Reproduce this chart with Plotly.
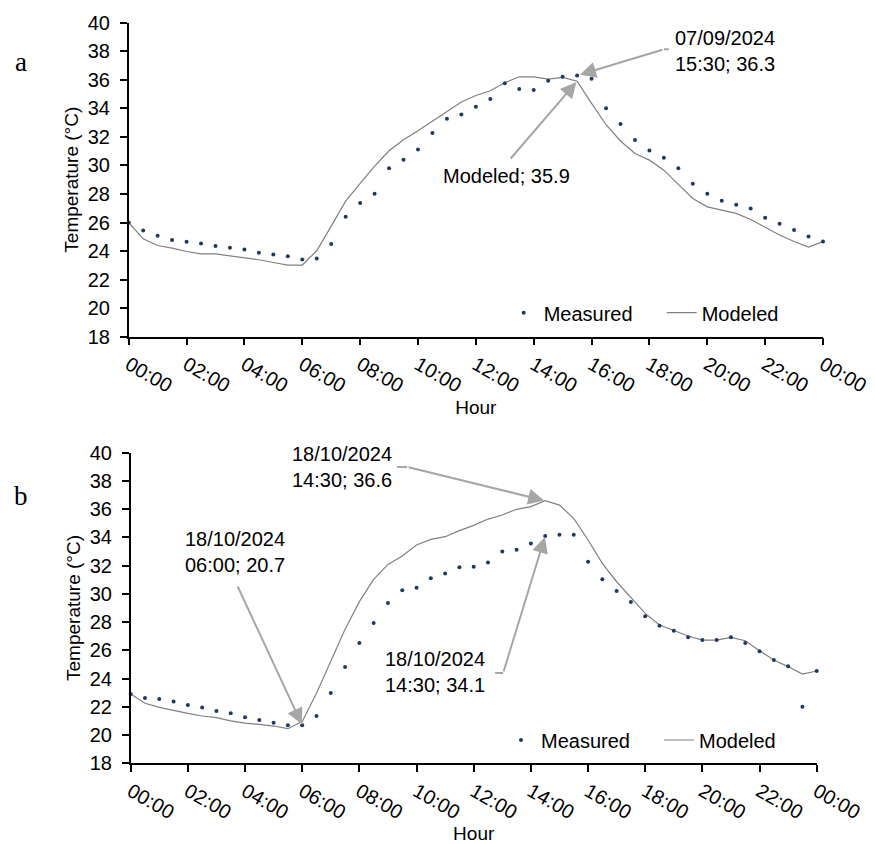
import plotly.graph_objects as go

# ---------------- data ----------------
hours = [0, 0.5, 1, 1.5, 2, 2.5, 3, 3.5, 4, 4.5, 5, 5.5, 6, 6.5, 7, 7.5, 8, 8.5,
         9, 9.5, 10, 10.5, 11, 11.5, 12, 12.5, 13, 13.5, 14, 14.5, 15, 15.5, 16,
         16.5, 17, 17.5, 18, 18.5, 19, 19.5, 20, 20.5, 21, 21.5, 22, 22.5, 23,
         23.5, 24]

tick_vals = [0, 2, 4, 6, 8, 10, 12, 14, 16, 18, 20, 22, 24]
tick_text = ["00:00", "02:00", "04:00", "06:00", "08:00", "10:00", "12:00",
             "14:00", "16:00", "18:00", "20:00", "22:00", "00:00"]

# Panel a (07/09/2024)
measured_a = [26.0, 25.44, 25.07, 24.77, 24.65, 24.53, 24.35, 24.23, 24.11, 23.88,
              23.76, 23.64, 23.41, 23.48, 24.49, 26.40, 27.36, 28.01, 29.81, 30.40,
              31.12, 32.27, 33.27, 33.57, 34.11, 34.65, 35.75, 35.35, 35.28, 35.93,
              36.21, 36.3, 36.07, 34.0, 32.9, 31.78, 31.05, 30.54, 29.81, 28.71,
              28.01, 27.52, 27.24, 26.99, 26.33, 25.91, 25.47, 25.02, 24.67]
modeled_a = [26.0, 24.86, 24.39, 24.21, 23.97, 23.8, 23.8, 23.67, 23.55, 23.39,
             23.2, 23.02, 23.02, 24.02, 25.75, 27.5, 28.74, 29.95, 31.03, 31.8,
             32.43, 33.11, 33.74, 34.44, 34.9, 35.23, 35.79, 36.21, 36.21, 36.05,
             36.17, 35.9, 34.35, 32.85, 31.71, 30.84, 30.37, 29.67, 28.67, 27.69,
             27.1, 26.87, 26.64, 26.21, 25.65, 25.12, 24.67, 24.28, 24.67]

# Panel b (18/10/2024)
measured_b = [22.91, 22.63, 22.55, 22.37, 22.13, 21.96, 21.70, 21.54, 21.26, 21.07,
              20.88, 20.69, 20.7, 21.35, 22.98, 24.82, 26.52, 27.94, 29.35, 30.25,
              30.44, 31.1, 31.45, 31.88, 31.93, 32.23, 33.01, 33.13, 33.56, 34.1,
              34.19, 34.19, 32.28, 31.03, 30.2, 29.42, 28.41, 27.75, 27.39, 26.92,
              26.73, 26.73, 26.92, 26.52, 25.93, 25.32, 24.87, 22.01, 24.54]
modeled_b = [22.91, 22.25, 21.96, 21.73, 21.54, 21.35, 21.23, 21.0, 20.85, 20.76,
             20.64, 20.45, 20.95, 22.96, 25.27, 27.49, 29.45, 31.03, 32.09, 32.68,
             33.46, 33.86, 34.05, 34.48, 34.85, 35.3, 35.59, 35.99, 36.18, 36.6,
             36.29, 35.35, 33.82, 32.16, 30.86, 29.73, 28.62, 27.8, 27.39, 27.02,
             26.73, 26.73, 26.92, 26.68, 25.98, 25.32, 24.85, 24.32, 24.54]

# ---------------- style ----------------
FONT = "Liberation Sans, Arial, sans-serif"
DOT = "#1F3864"
LINE = "#808080"
ARROW = "#A6A6A6"

fig = go.Figure()

fig.add_trace(go.Scatter(x=hours, y=modeled_a, mode="lines", name="Modeled",
                         line=dict(color=LINE, width=1.2), xaxis="x", yaxis="y",
                         legend="legend", legendrank=2))
fig.add_trace(go.Scatter(x=hours, y=measured_a, mode="markers", name="Measured",
                         marker=dict(color=DOT, size=4), xaxis="x", yaxis="y",
                         legend="legend", legendrank=1, cliponaxis=False))
fig.add_trace(go.Scatter(x=hours, y=modeled_b, mode="lines", name="Modeled",
                         line=dict(color=LINE, width=1.2), xaxis="x2", yaxis="y2",
                         legend="legend2", legendrank=2))
fig.add_trace(go.Scatter(x=hours, y=measured_b, mode="markers", name="Measured",
                         marker=dict(color=DOT, size=4), xaxis="x2", yaxis="y2",
                         legend="legend2", legendrank=1, cliponaxis=False))

axis_common = dict(showline=True, linecolor="black", linewidth=1.5,
                   ticks="outside", ticklen=7, tickwidth=1.5, tickcolor="black",
                   showgrid=False, zeroline=False, automargin=False,
                   tickfont=dict(family=FONT, size=20, color="black"))

xcommon = dict(axis_common, range=[0, 24], tickmode="array", tickvals=tick_vals,
               ticktext=tick_text, tickangle=30)
ycommon = dict(axis_common, range=[18, 40], tickmode="linear", tick0=18, dtick=2,
               ticklabelstandoff=6)

title_font = dict(family=FONT, size=19, color="black")

fig.update_layout(
    width=867, height=836,
    margin=dict(l=0, r=0, t=0, b=0, autoexpand=False),
    paper_bgcolor="white", plot_bgcolor="white",
    xaxis=dict(xcommon, domain=[0.13922, 0.94002], anchor="y",
               title=dict(text="Hour", font=title_font, standoff=5)),
    yaxis=dict(ycommon, domain=[0.60682, 0.98242], anchor="x",
               title=dict(text="Temperature (°C)", font=title_font, standoff=4)),
    xaxis2=dict(xcommon, domain=[0.14152, 0.93276], anchor="y2",
                title=dict(text="Hour", font=title_font, standoff=5)),
    yaxis2=dict(ycommon, domain=[0.09653, 0.46806], anchor="x2",
                title=dict(text="Temperature (°C)", font=title_font, standoff=4)),
    legend=dict(orientation="h", x=0.5717, y=0.6355, xanchor="left", yanchor="middle",
                font=dict(family=FONT, size=20, color="black"),
                bgcolor="rgba(0,0,0,0)", entrywidth=113, traceorder="normal"),
    legend2=dict(orientation="h", x=0.5686, y=0.1244, xanchor="left", yanchor="middle",
                 font=dict(family=FONT, size=20, color="black"),
                 bgcolor="rgba(0,0,0,0)", entrywidth=113, traceorder="normal"),
    showlegend=True,
)

ann_font = dict(family=FONT, size=20, color="black")

annotations = [
    # panel labels
    dict(text="a", xref="paper", yref="paper", x=0.015, y=0.9354,
         xanchor="center", yanchor="middle", showarrow=False,
         font=dict(family="Liberation Serif, serif", size=27, color="black")),
    dict(text="b", xref="paper", yref="paper", x=0.015, y=0.4163,
         xanchor="center", yanchor="middle", showarrow=False,
         font=dict(family="Liberation Serif, serif", size=27, color="black")),
    # panel a texts
    dict(text="07/09/2024<br>15:30; 36.3", xref="x", yref="y", x=18.80, y=38.05,
         xanchor="left", yanchor="middle", align="center", showarrow=False, font=ann_font),
    dict(text="Modeled; 35.9", xref="x", yref="y", x=10.81, y=29.26,
         xanchor="left", yanchor="middle", showarrow=False, font=ann_font),
    # panel a arrows
    dict(text="", xref="x", yref="y", x=15.5, y=36.3, axref="x", ayref="y",
         ax=18.50, ay=38.14, showarrow=True, arrowhead=2, arrowsize=1.6,
         arrowwidth=2, arrowcolor=ARROW, standoff=3),
    dict(text="", xref="x", yref="y", x=15.5, y=35.9, axref="x", ayref="y",
         ax=13.16, ay=30.38, showarrow=True, arrowhead=2, arrowsize=1.6,
         arrowwidth=2, arrowcolor=ARROW, standoff=1),
    # panel b texts
    dict(text="18/10/2024<br>14:30; 36.6", xref="x2", yref="y2", x=5.57, y=39.02,
         xanchor="left", yanchor="middle", align="center", showarrow=False, font=ann_font),
    dict(text="18/10/2024<br>06:00; 20.7", xref="x2", yref="y2", x=1.83, y=32.97,
         xanchor="left", yanchor="middle", align="center", showarrow=False, font=ann_font),
    dict(text="18/10/2024<br>14:30; 34.1", xref="x2", yref="y2", x=8.83, y=24.47,
         xanchor="left", yanchor="middle", align="center", showarrow=False, font=ann_font),
    # panel b arrows
    dict(text="", xref="x2", yref="y2", x=14.5, y=36.6, axref="x2", ayref="y2",
         ax=9.67, ay=38.99, showarrow=True, arrowhead=2, arrowsize=1.6,
         arrowwidth=2, arrowcolor=ARROW, standoff=1),
    dict(text="", xref="x2", yref="y2", x=6.0, y=20.7, axref="x2", ayref="y2",
         ax=3.72, ay=30.63, showarrow=True, arrowhead=2, arrowsize=1.6,
         arrowwidth=2, arrowcolor=ARROW, standoff=1),
    dict(text="", xref="x2", yref="y2", x=14.5, y=34.1, axref="x2", ayref="y2",
         ax=13.03, ay=24.40, showarrow=True, arrowhead=2, arrowsize=1.6,
         arrowwidth=2, arrowcolor=ARROW, standoff=1),
]
fig.update_layout(annotations=annotations)

# short horizontal leader segments (callout elbows)
fig.add_shape(type="line", xref="x", yref="y", x0=18.50, x1=18.67, y0=38.14, y1=38.14,
              line=dict(color=ARROW, width=2))
fig.add_shape(type="line", xref="x2", yref="y2", x0=9.32, x1=9.67, y0=38.99, y1=38.99,
              line=dict(color=ARROW, width=2))
fig.add_shape(type="line", xref="x2", yref="y2", x0=12.75, x1=13.03, y0=24.40, y1=24.40,
              line=dict(color=ARROW, width=2))

fig.write_html("out.html")
